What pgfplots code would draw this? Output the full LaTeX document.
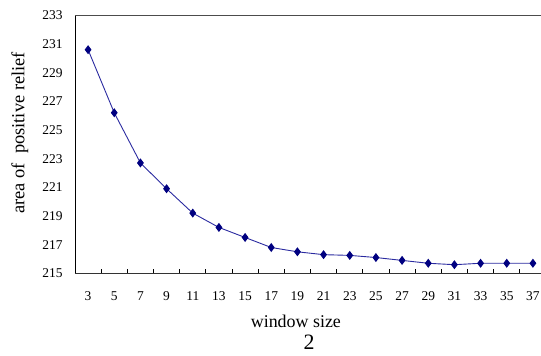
\documentclass[border=0pt]{standalone}
\usepackage{pgfplots}
\pgfplotsset{compat=1.18}
\usepackage{fontspec}
\setmainfont{Liberation Serif}
\definecolor{navy}{HTML}{000080}
\definecolor{lineblue}{HTML}{2A2AA0}
\begin{document}
\begin{tikzpicture}
\begin{axis}[
  name=ax,
  scale only axis,
  width=471bp, height=258bp,
  xmin=-0.5, xmax=17.5,
  ymin=215, ymax=233,
  ytick={215,217,...,233},
  xtick={0,...,17},
  xticklabels={3,5,7,9,11,13,15,17,19,21,23,25,27,29,31,33,35,37},
  minor xtick={0.5,1.5,...,16.5},
  major x tick style={draw=none},
  minor x tick style={black, line width=1pt},
  minor tick length=4bp,
  ytick style={draw=none},
  x tick label style={yshift=-15bp},
  y tick label style={xshift=-9bp},
  tick label style={font=\fontsize{13.5}{15}\selectfont},
  /pgf/number format/assume math mode=true,
  /pgf/number format/1000 sep={},
  axis x line*=bottom,
  axis y line*=left,
  x axis line style={-, line width=1.2pt, black!80},
  y axis line style={-, line width=1pt, black},
  xlabel={window size},
  ylabel={area of\ \ positive relief},
  xlabel style={font=\fontsize{18}{20}\selectfont, at={(axis description cs:0.469,-0.187)}, anchor=center},
  ylabel style={font=\fontsize{18.5}{20}\selectfont, at={(axis description cs:-0.117,0.544)}, anchor=center, rotate=0},
  clip=false,
]
\addplot[color=lineblue, line width=0.9pt, mark=diamond*, mark size=3.8bp, mark options={fill=navy, draw=navy}]
coordinates {
(0,230.6) (1,226.2) (2,222.7) (3,220.9) (4,219.2) (5,218.2) (6,217.5) (7,216.8) (8,216.5)
(9,216.3) (10,216.25) (11,216.1) (12,215.9) (13,215.7) (14,215.6) (15,215.7) (16,215.7) (17,215.7)
};
\draw[line width=1.2pt, black!70] (rel axis cs:0,1) -- (rel axis cs:1,1);
\node[font=\fontsize{22}{24}\selectfont, inner sep=0pt, anchor=center] at (axis description cs:0.497,-0.268) {2};
\end{axis}
\pgfresetboundingbox
\path[use as bounding box] ([shift={(-75bp,-82.7bp)}]ax.south west) rectangle ([shift={(466bp,273.3bp)}]ax.south west);
\end{tikzpicture}
\end{document}
